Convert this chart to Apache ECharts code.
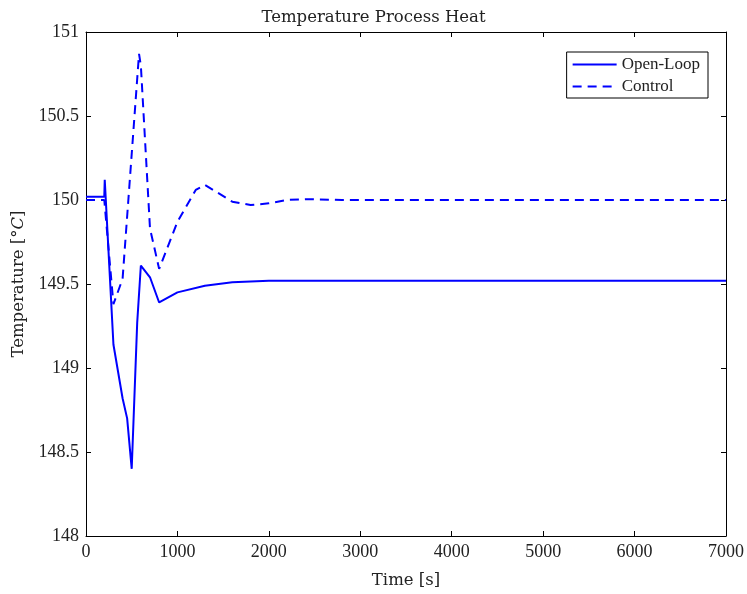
<!DOCTYPE html>
<html>
<head>
<meta charset="utf-8">
<script src="https://cdn.jsdelivr.net/npm/echarts@6/dist/echarts.min.js"></script>
<style>html,body{margin:0;padding:0;background:#fff}#c{width:747px;height:594px}</style>
</head>
<body>
<div id="c"></div>
<script>
var openLoopTime = [0, 200, 205, 300, 400, 450, 500, 560, 600, 700, 800, 1000, 1300, 1600, 2000, 2500, 7000];
var openLoopTemp = [150.02, 150.02, 150.12, 149.14, 148.82, 148.70, 148.40, 149.27, 149.61, 149.54, 149.39, 149.45, 149.49, 149.51, 149.52, 149.52, 149.52];
var controlTime = [0, 200, 300, 400, 580, 600, 700, 800, 1000, 1200, 1300, 1600, 1800, 2000, 2200, 2400, 2800, 7000];
var controlTemp = [150.00, 150.00, 149.38, 149.53, 150.87, 150.80, 149.83, 149.59, 149.87, 150.06, 150.09, 149.99, 149.97, 149.98, 150.00, 150.005, 150.00, 150.00];
var xTicks = [0, 1000, 2000, 3000, 4000, 5000, 6000, 7000];
var yTicks = [148, 148.5, 149, 149.5, 150, 150.5, 151];

function pairs(t, v) { return t.map(function (x, i) { return [x, v[i]]; }); }

var FONT = 'Liberation Serif';
var FONT2 = 'DejaVu Serif';
function ticks() { return {show: true, inside: true, length: 5, lineStyle: {color: '#000', width: 1}}; }
function line() { return {show: true, onZero: false, lineStyle: {color: '#000', width: 1}}; }
var chart = echarts.init(document.getElementById('c'), null, {renderer: 'canvas'});
chart.setOption({
  animation: false,
  backgroundColor: '#fff',
  textStyle: {fontFamily: FONT, color: '#000'},
  title: {
    text: 'Temperature Process Heat', left: 'center', top: 4,
    textStyle: {fontFamily: FONT2, fontSize: 16.5, fontWeight: 'normal', color: '#222'}
  },
  legend: {
    right: 39, top: 52, orient: 'vertical',
    data: ['Open-Loop', 'Control'],
    itemWidth: 44, itemHeight: 14, itemGap: 5,
    padding: [4, 8, 3, 5],
    borderColor: '#000', borderWidth: 1, backgroundColor: '#fff',
    itemStyle: {opacity: 0},
    textStyle: {fontFamily: FONT, fontSize: 17, color: '#222', padding: [0, 0, 0, 0]}
  },
  grid: {left: 86, right: 19, top: 32, bottom: 56, containLabel: false},
  xAxis: [{
    type: 'value', min: xTicks[0], max: xTicks[xTicks.length - 1], interval: 1000,
    name: 'Time [s]', nameLocation: 'middle', nameGap: 36,
    nameTextStyle: {fontFamily: FONT2, fontSize: 16.5, color: '#222'},
    axisLine: line(), axisTick: ticks(), splitLine: {show: false},
    axisLabel: {fontFamily: FONT, fontSize: 18, color: '#222', margin: 7, formatter: function (v) { return String(v); }}
  }, {
    type: 'value', position: 'top', min: xTicks[0], max: xTicks[xTicks.length - 1], interval: 1000,
    axisLine: line(), axisTick: ticks(), splitLine: {show: false}, axisLabel: {show: false}
  }],
  yAxis: [{
    type: 'value', min: yTicks[0], max: yTicks[yTicks.length - 1], interval: 0.5,
    name: 'Temperature [°{i|C}]', nameLocation: 'middle', nameGap: 52,
    nameTextStyle: {fontFamily: FONT2, fontSize: 16.5, color: '#222',
      rich: {i: {fontFamily: FONT2, fontStyle: 'italic', fontSize: 16.5, color: '#222'}}},
    axisLine: line(), axisTick: ticks(), splitLine: {show: false},
    axisLabel: {fontFamily: FONT, fontSize: 18, color: '#222', margin: 7, formatter: function (v) { return String(v); }}
  }, {
    type: 'value', position: 'right', min: yTicks[0], max: yTicks[yTicks.length - 1], interval: 0.5,
    axisLine: line(), axisTick: ticks(), splitLine: {show: false}, axisLabel: {show: false}
  }],
  series: [{
    name: 'Open-Loop', type: 'line', data: pairs(openLoopTime, openLoopTemp),
    showSymbol: false, symbol: 'none', color: '#0000ff',
    lineStyle: {color: '#0000ff', width: 2}
  }, {
    name: 'Control', type: 'line', data: pairs(controlTime, controlTemp),
    showSymbol: false, symbol: 'none', color: '#0000ff',
    lineStyle: {color: '#0000ff', width: 2, type: [9, 6]}
  }]
});
</script>
</body>
</html>
